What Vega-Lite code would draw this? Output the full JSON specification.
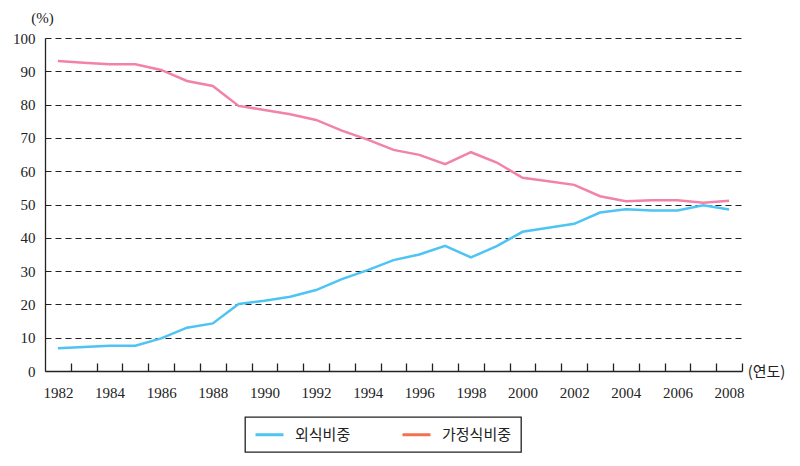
{
  "$schema": "https://vega.github.io/schema/vega-lite/v6.json",
  "autosize": "none",
  "width": 697,
  "height": 333,
  "padding": {"left": 45, "top": 38, "right": 58, "bottom": 95},
  "config": {"view": {"stroke": null}, "background": "white"},
  "data": {
    "values": [
      {"year": 1982, "series": "외식비중", "value": 6.8},
      {"year": 1983, "series": "외식비중", "value": 7.2},
      {"year": 1984, "series": "외식비중", "value": 7.6},
      {"year": 1985, "series": "외식비중", "value": 7.6},
      {"year": 1986, "series": "외식비중", "value": 9.8},
      {"year": 1987, "series": "외식비중", "value": 13.0},
      {"year": 1988, "series": "외식비중", "value": 14.3},
      {"year": 1989, "series": "외식비중", "value": 20.1},
      {"year": 1990, "series": "외식비중", "value": 21.1},
      {"year": 1991, "series": "외식비중", "value": 22.3},
      {"year": 1992, "series": "외식비중", "value": 24.3},
      {"year": 1993, "series": "외식비중", "value": 27.6},
      {"year": 1994, "series": "외식비중", "value": 30.3},
      {"year": 1995, "series": "외식비중", "value": 33.3},
      {"year": 1996, "series": "외식비중", "value": 35.0},
      {"year": 1997, "series": "외식비중", "value": 37.6},
      {"year": 1998, "series": "외식비중", "value": 34.1},
      {"year": 1999, "series": "외식비중", "value": 37.5},
      {"year": 2000, "series": "외식비중", "value": 41.8},
      {"year": 2001, "series": "외식비중", "value": 43.0},
      {"year": 2002, "series": "외식비중", "value": 44.2},
      {"year": 2003, "series": "외식비중", "value": 47.6},
      {"year": 2004, "series": "외식비중", "value": 48.6},
      {"year": 2005, "series": "외식비중", "value": 48.2},
      {"year": 2006, "series": "외식비중", "value": 48.2},
      {"year": 2007, "series": "외식비중", "value": 49.8},
      {"year": 2008, "series": "외식비중", "value": 48.5},
      {"year": 1982, "series": "가정식비중", "value": 93.1},
      {"year": 1983, "series": "가정식비중", "value": 92.6},
      {"year": 1984, "series": "가정식비중", "value": 92.1},
      {"year": 1985, "series": "가정식비중", "value": 92.1},
      {"year": 1986, "series": "가정식비중", "value": 90.4},
      {"year": 1987, "series": "가정식비중", "value": 87.1},
      {"year": 1988, "series": "가정식비중", "value": 85.6},
      {"year": 1989, "series": "가정식비중", "value": 79.6},
      {"year": 1990, "series": "가정식비중", "value": 78.4},
      {"year": 1991, "series": "가정식비중", "value": 77.1},
      {"year": 1992, "series": "가정식비중", "value": 75.4},
      {"year": 1993, "series": "가정식비중", "value": 72.2},
      {"year": 1994, "series": "가정식비중", "value": 69.5},
      {"year": 1995, "series": "가정식비중", "value": 66.4},
      {"year": 1996, "series": "가정식비중", "value": 64.9},
      {"year": 1997, "series": "가정식비중", "value": 62.1},
      {"year": 1998, "series": "가정식비중", "value": 65.7},
      {"year": 1999, "series": "가정식비중", "value": 62.6},
      {"year": 2000, "series": "가정식비중", "value": 58.0},
      {"year": 2001, "series": "가정식비중", "value": 57.0},
      {"year": 2002, "series": "가정식비중", "value": 55.9},
      {"year": 2003, "series": "가정식비중", "value": 52.5},
      {"year": 2004, "series": "가정식비중", "value": 51.0},
      {"year": 2005, "series": "가정식비중", "value": 51.3},
      {"year": 2006, "series": "가정식비중", "value": 51.3},
      {"year": 2007, "series": "가정식비중", "value": 50.5},
      {"year": 2008, "series": "가정식비중", "value": 51.1}
    ]
  },
  "resolve": {"axis": {"x": "independent"}},
  "layer": [
    {
      "mark": {"type": "line", "strokeWidth": 2.5, "strokeOpacity": 0},
      "encoding": {
        "x": {
          "field": "year",
          "type": "quantitative",
          "scale": {"domain": [1981.5, 2008.5], "nice": false, "zero": false},
          "axis": {
            "orient": "bottom",
            "values": [1982,1984,1986,1988,1990,1992,1994,1996,1998,2000,2002,2004,2006,2008],
            "format": "d",
            "ticks": false,
            "domainColor": "#222",
            "domainWidth": 1.3,
            "labelPadding": 14,
            "labelFlush": false,
            "labelOverlap": false,
            "labelFont": "Liberation Serif",
            "labelFontSize": 15,
            "labelColor": "#222",
            "grid": false,
            "title": "(연도)",
            "titleFont": "Noto Sans CJK KR",
            "titleFontSize": 15,
            "titleFontWeight": "normal",
            "titleColor": "#222",
            "titleX": 721,
            "titleY": 0,
            "titleAlign": "center",
            "titleBaseline": "middle"
          }
        },
        "y": {
          "field": "value",
          "type": "quantitative",
          "scale": {"domain": [0, 100], "nice": false},
          "axis": {
            "values": [0,10,20,30,40,50,60,70,80,90,100],
            "ticks": false,
            "domainColor": "#222",
            "domainWidth": 1.3,
            "grid": true,
            "gridColor": "#222",
            "gridWidth": 1.2,
            "gridDash": [6, 4],
            "labelPadding": 10,
            "labelOverlap": false,
            "labelFont": "Liberation Serif",
            "labelFontSize": 15,
            "labelColor": "#222",
            "title": "(%)",
            "titleAngle": 0,
            "titleFont": "Liberation Serif",
            "titleFontSize": 15,
            "titleFontWeight": "normal",
            "titleColor": "#222",
            "titleX": -3,
            "titleY": -21,
            "titleAlign": "center",
            "titleBaseline": "middle"
          }
        },
        "stroke": {
          "field": "series",
          "type": "nominal",
          "scale": {"domain": ["외식비중", "가정식비중"], "range": ["#4dc4f4", "#f37150"]},
          "legend": {
            "title": null,
            "orient": "none",
            "direction": "horizontal",
            "legendX": 200,
            "legendY": 379,
            "padding": 9,
            "strokeColor": "#222",
            "fillColor": "white",
            "symbolType": "M-1,0H3",
            "symbolSize": 196,
            "symbolStrokeWidth": 3,
            "symbolOpacity": 1,
            "labelOffset": 24,
            "columnPadding": 45,
            "labelFont": "Noto Sans CJK KR",
            "labelFontSize": 15,
            "labelColor": "#222",
            "encode": {
              "legend": {"update": {"strokeWidth": {"value": 1.3}}},
              "symbols": {"update": {"strokeOpacity": {"value": 1}}}
            }
          }
        }
      }
    },
    {
      "mark": {"type": "line", "strokeWidth": 2.5},
      "encoding": {
        "x": {
          "field": "year",
          "type": "quantitative",
          "axis": {
            "orient": "top",
            "offset": -333,
            "values": [1982,1983,1984,1985,1986,1987,1988,1989,1990,1991,1992,1993,1994,1995,1996,1997,1998,1999,2000,2001,2002,2003,2004,2005,2006,2007,2008],
            "tickOffset": 12.907,
            "tickSize": 8,
            "tickColor": "#222",
            "tickWidth": 1.3,
            "labels": false,
            "domain": false,
            "grid": false,
            "title": null
          }
        },
        "y": {
          "field": "value",
          "type": "quantitative",
          "axis": {
            "values": [0,10,20,30,40,50,60,70,80,90,100],
            "ticks": false,
            "domainColor": "#222",
            "domainWidth": 1.3,
            "grid": true,
            "gridColor": "#222",
            "gridWidth": 1.2,
            "gridDash": [6, 4],
            "labelPadding": 10,
            "labelOverlap": false,
            "labelFont": "Liberation Serif",
            "labelFontSize": 15,
            "labelColor": "#222",
            "title": "(%)",
            "titleAngle": 0,
            "titleFont": "Liberation Serif",
            "titleFontSize": 15,
            "titleFontWeight": "normal",
            "titleColor": "#222",
            "titleX": -3,
            "titleY": -21,
            "titleAlign": "center",
            "titleBaseline": "middle"
          }
        },
        "color": {
          "field": "series",
          "type": "nominal",
          "scale": {"domain": ["외식비중", "가정식비중"], "range": ["#4dc4f4", "#f282a6"]},
          "legend": null
        }
      }
    }
  ]
}
